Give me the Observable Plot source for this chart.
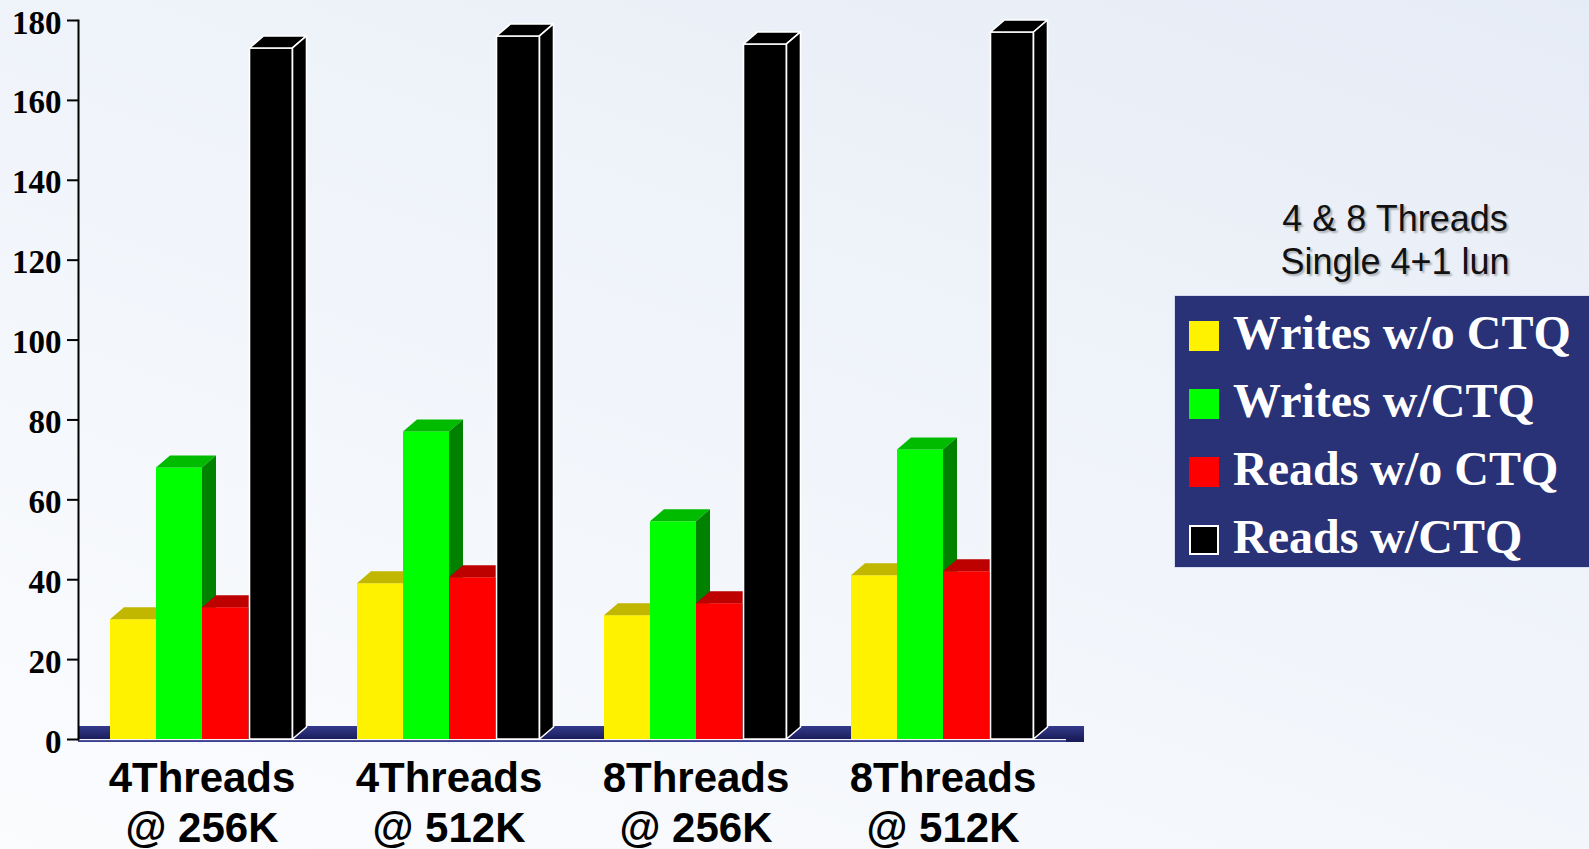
<!DOCTYPE html>
<html>
<head>
<meta charset="utf-8">
<script src="https://cdn.jsdelivr.net/npm/d3@7"></script>
<script src="https://cdn.jsdelivr.net/npm/@observablehq/plot@0.6"></script>
<style>
  html, body { margin: 0; padding: 0; }
  body {
    width: 1589px; height: 849px; overflow: hidden; position: relative;
    background: linear-gradient(200deg, #e6ecf6 0%, #f0f4fa 45%, #fbfcfe 100%);
  }
  #chart { position: absolute; left: 0; top: 0; }
  .note {
    position: absolute; left: 1195px; top: 197px; width: 400px; text-align: center;
    font: 36px/43px "Liberation Sans", Arial, sans-serif; color: #111;
    text-shadow: 2px 2px 2px rgba(0, 0, 0, 0.28);
  }
  .key {
    position: absolute; left: 1175px; top: 296px; width: 414px; height: 271px;
    background: #293177; box-shadow: 0 0 0 1px rgba(205, 210, 235, 0.7);
  }
  .key .row { position: absolute; left: 14px; height: 30px; width: 390px; }
  .key .sw { position: absolute; left: 0; top: 0; width: 30px; height: 30px; box-sizing: border-box; }
  .key .lab {
    position: absolute; left: 44px; top: -11.7px; white-space: nowrap;
    font: bold 48px/48px "Liberation Serif", "Times New Roman", serif; color: #fff;
  }
</style>
</head>
<body>
<div id="chart"></div>
<div class="note">4 &amp; 8 Threads<br>Single 4+1 lun</div>
<div class="key" id="key"></div>
<script>
// Thread count / request size combinations along the bottom
const groups = ["4Threads\n@ 256K", "4Threads\n@ 512K", "8Threads\n@ 256K", "8Threads\n@ 512K"];
const series = ["Writes w/o CTQ", "Writes w/CTQ", "Reads w/o CTQ", "Reads w/CTQ"];

// Throughput per series, one value per group
const writesNoCtq = [30, 39, 31, 41];
const writesCtq = [68, 77, 54.5, 72.5];
const readsNoCtq = [33, 40.5, 34, 42];
const readsCtq = [173, 176, 174, 177];

const yTicks = [0, 20, 40, 60, 80, 100, 120, 140, 160, 180];

// Face colours of the extruded bars: front, top, right side
const frontColors = ["#fff200", "#00ff00", "#ff0000", "#000000"];
const topColors = ["#c1b700", "#00bb00", "#bd0000", "#000000"];
const sideColors = ["#8c8400", "#008200", "#8a0000", "#000000"];

const seriesValues = [writesNoCtq, writesCtq, readsNoCtq, readsCtq];
const rows = groups.flatMap((group, gi) =>
  series.map((s, si) => ({group, series: s, value: seriesValues[si][gi]}))
);

const depthX = 14, depthY = 12;

// Navy floor slab under each group, with a light front edge
function floor(index, scales, values, dims) {
  const g = d3.create("svg:g");
  const y0 = scales.y(0);
  const left = dims.marginLeft;
  const right = dims.width - dims.marginRight;
  g.append("rect")
    .attr("x", left).attr("y", y0 - depthY - 1)
    .attr("width", right - left + 18).attr("height", depthY + 4)
    .attr("fill", "url(#floorShade)");
  g.append("rect")
    .attr("x", left).attr("y", y0)
    .attr("width", right - left).attr("height", 1.4)
    .attr("fill", "#f4f4fa");
  g.append("rect")
    .attr("x", left).attr("y", y0 + 1.4)
    .attr("width", right - left).attr("height", 1.6)
    .attr("fill", "#3a3f96");
  return g.node();
}

// Bars drawn as boxes: front face, top face and right side face
function extrudedBars(index, scales, values) {
  const g = d3.create("svg:g");
  const bw = scales.x.bandwidth();
  for (const i of index) {
    const k = series.indexOf(rows[i].series);
    const outlined = k === 3;
    const inset = outlined ? 1.5 : 0;
    const x1 = values.x[i] + inset, x2 = values.x[i] + bw - inset;
    const yb = scales.y(0), yt = scales.y(rows[i].value);
    const box = g.append("g")
      .attr("stroke", outlined ? "#ffffff" : "none")
      .attr("stroke-width", 1.6)
      .attr("stroke-linejoin", "round");
    box.append("rect")
      .attr("x", x1).attr("y", yt).attr("width", x2 - x1).attr("height", yb - yt)
      .attr("fill", (values.fill && values.fill[i]) || frontColors[k]);
    box.append("path")
      .attr("d", `M${x1},${yt}L${x1 + depthX},${yt - depthY}H${x2 + depthX}L${x2},${yt}Z`)
      .attr("fill", topColors[k]);
    box.append("path")
      .attr("d", `M${x2},${yt}L${x2 + depthX},${yt - depthY}V${yb - depthY}L${x2},${yb}Z`)
      .attr("fill", sideColors[k]);
  }
  return g.node();
}

const chart = Plot.plot({
  width: 1589,
  height: 849,
  marginLeft: 76,
  marginRight: 522,
  marginTop: 20,
  marginBottom: 110,
  style: {background: "transparent", overflow: "visible", color: "#000"},
  fx: {domain: groups, padding: 0},
  x: {domain: series, paddingInner: 0, paddingOuter: 0.68, align: 0.5, axis: null},
  y: {domain: [0, 180]},
  color: {domain: series, range: frontColors},
  marks: [
    Plot.ruleY([0], {render: floor}),
    Plot.barY(rows, {fx: "group", x: "series", y: "value", fill: "series", render: extrudedBars}),
    Plot.frame({anchor: "left", facetAnchor: "left", stroke: "#000", strokeWidth: 2}),
    Plot.axisY({
      ticks: yTicks, tickSize: 11, tickPadding: 6, strokeWidth: 2, stroke: "#000",
      fontSize: 33, fontWeight: "bold", fontFamily: "'Liberation Serif', 'Times New Roman', serif",
      fill: "#000", label: null
    }),
    Plot.axisFx({
      anchor: "bottom", tickSize: 0, tickPadding: 16, lineHeight: 1.21,
      fontSize: 42, fontWeight: "bold", fontFamily: "'Liberation Sans', Arial, sans-serif",
      fill: "#000", label: null
    })
  ]
});

// Vertical shading of the floor slab
const defs = d3.select(chart).insert("defs", ":first-child");
const grad = defs.append("linearGradient")
  .attr("id", "floorShade").attr("x1", 0).attr("y1", 0).attr("x2", 0).attr("y2", 1);
grad.append("stop").attr("offset", "0%").attr("stop-color", "#343a8c");
grad.append("stop").attr("offset", "80%").attr("stop-color", "#1b1e5c");
grad.append("stop").attr("offset", "100%").attr("stop-color", "#1b1e5c");

// Nudge the serif tick numbers a little below their ticks
d3.select(chart).selectAll("g[aria-label='y-axis tick label']")
  .attr("transform", function() {
    const t = this.getAttribute("transform") || "";
    return `${t} translate(0,2.5)`;
  });

document.getElementById("chart").appendChild(chart);

// Legend box built from the same series and colours
const key = d3.select("#key");
series.forEach((name, k) => {
  const row = key.append("div").attr("class", "row").style("top", `${25 + 68 * k}px`);
  row.append("div").attr("class", "sw")
    .style("background", frontColors[k])
    .style("border", k === 3 ? "2px solid #fff" : "none");
  row.append("span").attr("class", "lab").text(name);
});
</script>
</body>
</html>
